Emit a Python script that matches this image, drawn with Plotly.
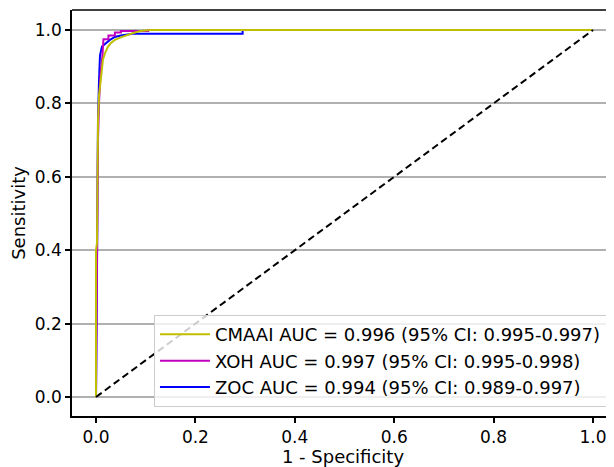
import plotly.graph_objects as go

# ROC curve points (1 - specificity, sensitivity)
cmaai_fpr = [0.0, 0.0, 0.002, 0.003, 0.004, 0.006, 0.0095, 0.012, 0.014, 0.019, 0.024, 0.030, 0.038, 0.050, 0.062, 0.075, 0.089, 0.109, 1.0]
cmaai_tpr = [0.0, 0.40, 0.42, 0.65, 0.75, 0.82, 0.86, 0.90, 0.92, 0.94, 0.954, 0.965, 0.973, 0.980, 0.986, 0.992, 0.997, 1.0, 1.0]

xoh_fpr = [0.0, 0.002, 0.004, 0.006, 0.009, 0.013, 0.015, 0.025, 0.025, 0.038, 0.038, 0.050, 0.050, 0.105, 0.105, 1.0]
xoh_tpr = [0.0, 0.42, 0.70, 0.80, 0.88, 0.93, 0.975, 0.975, 0.985, 0.985, 0.993, 0.993, 0.997, 0.997, 1.0, 1.0]

zoc_fpr = [0.0, 0.002, 0.004, 0.006, 0.008, 0.012, 0.020, 0.028, 0.038, 0.050, 0.074, 0.295, 0.295, 1.0]
zoc_tpr = [0.0, 0.45, 0.75, 0.86, 0.93, 0.955, 0.965, 0.973, 0.981, 0.985, 0.990, 0.990, 1.0, 1.0]

chance_x = [0.0, 1.0]
chance_y = [0.0, 1.0]

labels = [
    "CMAAI AUC = 0.996 (95% CI: 0.995-0.997)",
    "XOH AUC = 0.997 (95% CI: 0.995-0.998)",
    "ZOC AUC = 0.994 (95% CI: 0.989-0.997)",
]

tick_vals = [0.0, 0.2, 0.4, 0.6, 0.8, 1.0]

FONT = "DejaVu Sans"
FS = 18

fig = go.Figure()
fig.add_trace(go.Scatter(x=zoc_fpr, y=zoc_tpr, mode="lines", name=labels[2], legendrank=3,
                         line=dict(color="#0000ff", width=2)))
fig.add_trace(go.Scatter(x=xoh_fpr, y=xoh_tpr, mode="lines", name=labels[1], legendrank=2,
                         line=dict(color="#bf00bf", width=2)))
fig.add_trace(go.Scatter(x=cmaai_fpr, y=cmaai_tpr, mode="lines", name=labels[0], legendrank=1,
                         line=dict(color="#bfbf00", width=2)))
fig.add_trace(go.Scatter(x=chance_x, y=chance_y, mode="lines", showlegend=False,
                         line=dict(color="black", width=2, dash="7px,4px")))

# the page body has an 8px default margin, so the figure is sized to fill the rest
fig.update_layout(
    width=606, height=459,
    margin=dict(l=64, r=0, t=2, b=51, autoexpand=False),
    paper_bgcolor="white", plot_bgcolor="white",
    font=dict(family=FONT, size=FS, color="black"),
    showlegend=True,
    legend=dict(
        x=0.987, y=0.022, xanchor="right", yanchor="bottom",
        bgcolor="rgba(255,255,255,0.8)", bordercolor="#cccccc", borderwidth=1,
        font=dict(family=FONT, size=FS, color="black"),
        tracegroupgap=0, itemwidth=50,
    ),
    xaxis=dict(
        range=[-0.0483, 1.0422], tickvals=tick_vals, tickformat=".1f",
        showgrid=False, zeroline=False, automargin=False,
        showline=True, linecolor="black", linewidth=1.5,
        ticks="outside", ticklen=5, tickwidth=1.5, tickcolor="black",
        tickfont=dict(family=FONT, size=17),
        title=dict(text="1 - Specificity", standoff=5, font=dict(family=FONT, size=FS)),
    ),
    yaxis=dict(
        range=[-0.0518, 1.0545], tickvals=tick_vals, tickformat=".1f",
        showgrid=True, gridcolor="#b0b0b0", gridwidth=2, zeroline=False, automargin=False,
        showline=True, linecolor="black", linewidth=1.5,
        ticks="outside", ticklen=5, tickwidth=1.5, tickcolor="black",
        tickfont=dict(family=FONT, size=17),
        title=dict(text="Sensitivity", standoff=10, font=dict(family=FONT, size=FS)),
    ),
    shapes=[dict(type="line", xref="paper", yref="paper", x0=0, x1=1, y0=1, y1=1,
                 line=dict(color="black", width=1.5))],
)

fig.write_html("out.html")
